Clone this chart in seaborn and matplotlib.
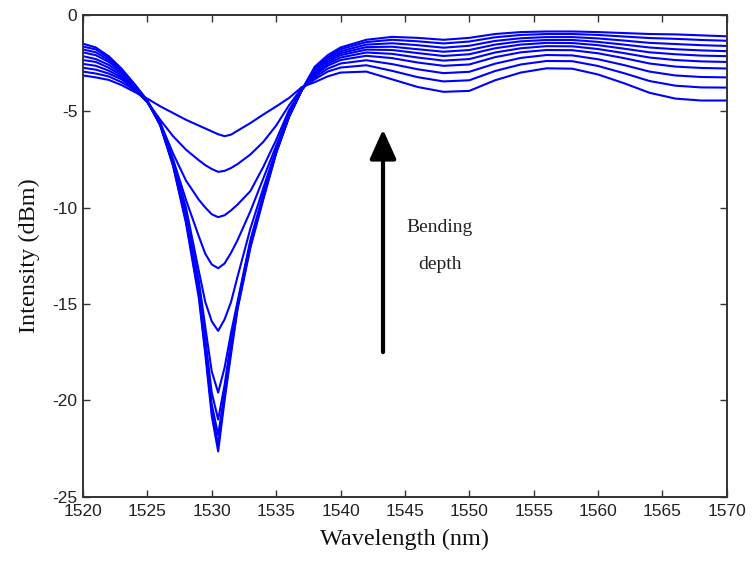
import numpy as np
import pandas as pd
import matplotlib
matplotlib.use("Agg")
import matplotlib.pyplot as plt
import seaborn as sns

wavelength = [1520, 1521, 1522, 1523, 1524, 1525, 1526, 1527, 1528, 1529, 1529.5, 1530, 1530.5, 1531, 1531.5,
              1532, 1533, 1534, 1535, 1536, 1537, 1538, 1539, 1540, 1542, 1544, 1546, 1548, 1550, 1552,
              1554, 1556, 1558, 1560, 1562, 1564, 1566, 1568, 1570]

curve_a = [-3.15, -3.25, -3.38, -3.65, -4.0, -4.35, -4.75, -5.1, -5.45, -5.75, -5.9, -6.05, -6.2, -6.3, -6.22,
           -6.02, -5.62, -5.18, -4.76, -4.32, -3.75, -3.5, -3.2, -3.0, -2.95, -3.35, -3.75, -4.0, -3.95, -3.4,
           -3.0, -2.78, -2.8, -3.1, -3.55, -4.05, -4.35, -4.45, -4.45]
curve_b = [-2.95, -3.05, -3.2, -3.5, -3.9, -4.5, -5.45, -6.3, -7.0, -7.55, -7.8, -8.0, -8.15, -8.1, -7.95,
           -7.75, -7.25, -6.6, -5.75, -4.7, -3.8, -3.35, -2.95, -2.74, -2.62, -2.91, -3.24, -3.46, -3.4, -2.92,
           -2.58, -2.4, -2.41, -2.66, -3.03, -3.44, -3.68, -3.77, -3.78]
curve_c = [-2.75, -2.85, -3.05, -3.35, -3.85, -4.55, -5.6, -7.2, -8.6, -9.6, -10.0, -10.35, -10.5, -10.4, -10.15,
           -9.85, -9.15, -7.9, -6.5, -4.95, -3.85, -3.25, -2.8, -2.53, -2.36, -2.56, -2.83, -3.03, -2.96, -2.54,
           -2.24, -2.09, -2.11, -2.31, -2.61, -2.95, -3.15, -3.23, -3.25]
curve_d = [-2.55, -2.65, -2.9, -3.25, -3.8, -4.5, -5.65, -7.5, -9.6, -11.5, -12.4, -12.95, -13.15, -12.9, -12.35,
           -11.7, -10.2, -8.5, -6.8, -5.1, -3.85, -3.15, -2.65, -2.35, -2.13, -2.25, -2.48, -2.65, -2.58, -2.2,
           -1.95, -1.83, -1.84, -2.0, -2.25, -2.53, -2.69, -2.76, -2.79]
curve_e = [-2.35, -2.45, -2.75, -3.15, -3.75, -4.5, -5.65, -7.6, -10.0, -13.3, -14.9, -15.9, -16.4, -15.8, -14.9,
           -13.6, -11.1, -9.0, -7.0, -5.2, -3.9, -3.05, -2.55, -2.22, -1.96, -2.03, -2.22, -2.38, -2.3, -1.96,
           -1.74, -1.63, -1.64, -1.78, -1.99, -2.22, -2.35, -2.42, -2.45]
curve_f = [-2.15, -2.3, -2.6, -3.05, -3.7, -4.5, -5.7, -7.65, -10.3, -13.8, -16.2, -18.5, -19.6, -18.3, -16.5,
           -14.9, -11.7, -9.3, -7.05, -5.25, -3.9, -2.95, -2.45, -2.1, -1.81, -1.83, -1.99, -2.14, -2.05, -1.74,
           -1.55, -1.46, -1.47, -1.58, -1.76, -1.95, -2.05, -2.12, -2.15]
curve_g = [-1.95, -2.1, -2.45, -2.95, -3.7, -4.5, -5.7, -7.7, -10.5, -14.1, -16.8, -19.6, -21.0, -19.2, -16.9,
           -15.0, -11.8, -9.4, -7.1, -5.25, -3.9, -2.9, -2.35, -2.0, -1.68, -1.66, -1.79, -1.92, -1.83, -1.55,
           -1.38, -1.31, -1.31, -1.41, -1.55, -1.7, -1.79, -1.85, -1.89]
curve_h = [-1.8, -1.95, -2.35, -2.9, -3.65, -4.45, -5.7, -7.75, -10.6, -14.3, -17.1, -20.2, -21.8, -19.6, -17.2,
           -15.1, -11.9, -9.45, -7.15, -5.3, -3.9, -2.8, -2.25, -1.9, -1.55, -1.48, -1.58, -1.71, -1.61, -1.36,
           -1.22, -1.16, -1.16, -1.23, -1.34, -1.46, -1.52, -1.58, -1.62]
curve_i = [-1.65, -1.8, -2.25, -2.85, -3.6, -4.45, -5.7, -7.8, -10.7, -14.5, -17.4, -20.5, -22.3, -19.8, -17.4,
           -15.2, -12.0, -9.5, -7.15, -5.3, -3.9, -2.75, -2.2, -1.79, -1.42, -1.3, -1.38, -1.49, -1.39, -1.17,
           -1.05, -1.0, -1.0, -1.05, -1.13, -1.21, -1.25, -1.31, -1.35]
curve_j = [-1.5, -1.7, -2.15, -2.8, -3.6, -4.45, -5.75, -7.85, -10.8, -14.7, -17.6, -20.8, -22.65, -20.0, -17.6,
           -15.3, -12.1, -9.6, -7.2, -5.3, -3.9, -2.7, -2.1, -1.7, -1.3, -1.15, -1.2, -1.3, -1.2, -1.0,
           -0.9, -0.87, -0.87, -0.9, -0.95, -1.0, -1.02, -1.07, -1.12]

curves = {"A": curve_a, "B": curve_b, "C": curve_c, "D": curve_d, "E": curve_e,
          "F": curve_f, "G": curve_g, "H": curve_h, "I": curve_i, "J": curve_j}

x_ticks = [1520, 1525, 1530, 1535, 1540, 1545, 1550, 1555, 1560, 1565, 1570]
y_ticks = [0, -5, -10, -15, -20, -25]

rows = []
for name, vals in curves.items():
    for w, v in zip(wavelength, vals):
        rows.append({"curve": name, "wavelength": w, "intensity": v})
df = pd.DataFrame(rows)

sns.set_style("ticks")
plt.rcParams["axes.unicode_minus"] = False

fig = plt.figure(figsize=(7.54, 5.62), dpi=100)
ax = fig.add_axes([0.110, 0.1162, 0.854, 0.8576])

sns.lineplot(data=df, x="wavelength", y="intensity", hue="curve",
             palette=["#0000ff"] * len(curves), estimator=None, sort=True,
             linewidth=1.5, legend=False, ax=ax)

ax.set_xlim(1520, 1570)
ax.set_ylim(-25, 0)
ax.set_xticks(x_ticks)
ax.set_yticks(y_ticks)
ax.set_xticklabels([str(t) for t in x_ticks], fontfamily="Liberation Sans", fontsize=12.5, color="#222222")
ax.set_yticklabels([str(t) for t in y_ticks], fontfamily="Liberation Sans", fontsize=12.5, color="#222222")
ax.tick_params(axis="both", direction="in", top=True, right=True, length=5, width=1.0, color="#333333")
ax.tick_params(axis="x", pad=5)
ax.tick_params(axis="y", pad=4)
for s in ax.spines.values():
    s.set_visible(True)
    s.set_linewidth(1.4)
    s.set_color("#333333")

ax.set_xlabel("Wavelength (nm)", fontfamily="Liberation Serif", fontsize=17.5, color="#111111", labelpad=7)
ax.set_ylabel("Intensity (dBm)", fontfamily="Liberation Serif", fontsize=17.5, color="#111111", labelpad=9)

ax.annotate("", xy=(1543.3, -5.95), xytext=(1543.3, -17.5),
            arrowprops=dict(arrowstyle="-|>,head_length=1.0,head_width=0.45", lw=3, color="black",
                            mutation_scale=18, shrinkA=0, shrinkB=0))
ax.text(1547.7, -11.05, "Bending", fontfamily="Liberation Serif", fontsize=14, ha="center", va="center", color="#222222")
ax.text(1547.7, -12.97, "depth", fontfamily="Liberation Serif", fontsize=14, ha="center", va="center", color="#222222")

fig.savefig("out.png", dpi=100)
